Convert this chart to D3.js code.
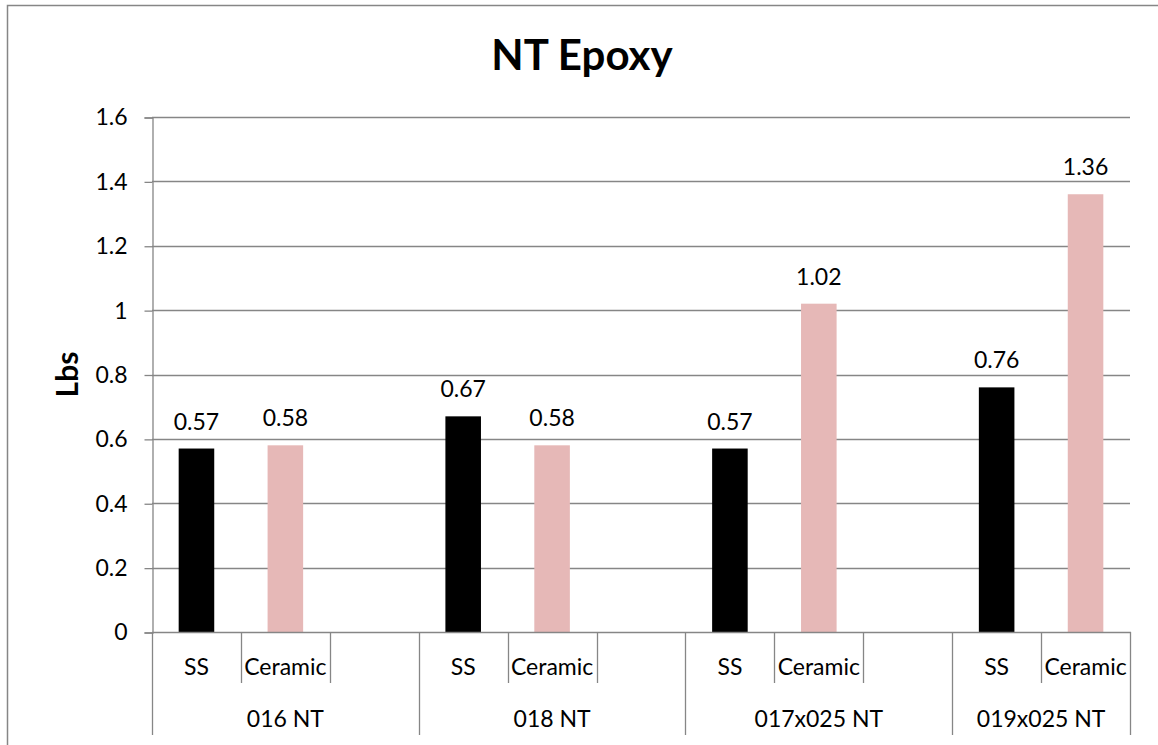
<!DOCTYPE html>
<html>
<head>
<meta charset="utf-8">
<script src="https://cdn.jsdelivr.net/npm/d3@7"></script>
<style>
  html, body { margin: 0; padding: 0; background: #fff; }
  svg { display: block; }
  text { font-family: Lato, "Open Sans", sans-serif; fill: #000; }
</style>
</head>
<body>
<svg id="chart" width="1158" height="745"></svg>
<script>
const title = "NT Epoxy";
const yTitle = "Lbs";
const groups = ["016 NT", "018 NT", "017x025 NT", "019x025 NT"];
const subcats = ["SS", "Ceramic"];
const ssValues = [0.57, 0.67, 0.57, 0.76];
const ceramicValues = [0.58, 0.58, 1.02, 1.36];
const yTicks = [0, 0.2, 0.4, 0.6, 0.8, 1, 1.2, 1.4, 1.6];

const seriesValues = [ssValues, ceramicValues];
const colors = ["#000000", "#E6B8B7"];

// build slots: each group = SS, Ceramic, blank (except last group)
const slots = [];
groups.forEach((g, gi) => {
  subcats.forEach((s, si) => slots.push({ key: g + "|" + s, group: g, gi, label: s, si, value: seriesValues[si][gi] }));
  if (gi < groups.length - 1) slots.push({ key: g + "|blank", group: g, gi, label: "", si: -1, value: null });
});

const svg = d3.select("#chart");
const pLeft = 152, pRight = 1130, pTop = 117, pBottom = 632;
const gridColor = "#868686";
const fs = 23;

// outer border
svg.append("rect").attr("x", 7.5).attr("y", 5.5).attr("width", 1300).attr("height", 900)
  .attr("fill", "none").attr("stroke", gridColor).attr("stroke-width", 1.5);

const x = d3.scaleBand().domain(slots.map(d => d.key)).range([pLeft, pRight]).padding(0);
const y = d3.scaleLinear().domain([0, 1.6]).range([pBottom, pTop]);

// gridlines
svg.append("g").selectAll("line").data(yTicks.filter(t => t > 0)).join("line")
  .attr("x1", pLeft).attr("x2", pRight)
  .attr("y1", d => Math.round(y(d)) + 0.5).attr("y2", d => Math.round(y(d)) + 0.5)
  .attr("stroke", gridColor).attr("stroke-width", 1.3);

// y axis
const yAxis = d3.axisLeft(y).tickValues(yTicks).tickSize(8).tickPadding(17).tickFormat(d3.format("~g"));
const yg = svg.append("g").attr("transform", `translate(${pLeft + 0.5},0.5)`).call(yAxis);
yg.select(".domain").attr("stroke", gridColor).attr("stroke-width", 1.3);
yg.selectAll(".tick line").attr("stroke", gridColor).attr("stroke-width", 1.3);
yg.selectAll(".tick text").attr("font-size", fs).attr("font-family", "Lato").attr("fill", "#000");

// bars
svg.append("g").selectAll("rect").data(slots.filter(d => d.value != null)).join("rect")
  .attr("x", d => x(d.key) + x.bandwidth() * 0.3)
  .attr("width", x.bandwidth() * 0.4)
  .attr("y", d => y(d.value))
  .attr("height", d => y(0) - y(d.value))
  .attr("fill", d => colors[d.si]);

// data labels
svg.append("g").selectAll("text").data(slots.filter(d => d.value != null)).join("text")
  .attr("x", d => x(d.key) + x.bandwidth() / 2)
  .attr("y", d => y(d.value) - 19)
  .attr("text-anchor", "middle")
  .attr("font-size", fs)
  .text(d => d3.format(".2f")(d.value));

// x axis line
svg.append("line").attr("x1", pLeft).attr("x2", pRight + 1).attr("y1", pBottom + 0.5).attr("y2", pBottom + 0.5)
  .attr("stroke", gridColor).attr("stroke-width", 1.3);

// slot ticks (short) and group boundaries (long)
const boundaries = [];
slots.forEach((d, i) => {
  const xs = x(d.key);
  const isGroupStart = i === 0 || slots[i - 1].gi !== d.gi;
  boundaries.push({ x: xs, long: isGroupStart });
});
boundaries.push({ x: pRight, long: true });
svg.append("g").selectAll("line").data(boundaries).join("line")
  .attr("x1", d => Math.round(d.x) + 0.5).attr("x2", d => Math.round(d.x) + 0.5)
  .attr("y1", pBottom).attr("y2", d => d.long ? 735 : 683)
  .attr("stroke", gridColor).attr("stroke-width", 1.3);

// category labels
svg.append("g").selectAll("text").data(slots.filter(d => d.label)).join("text")
  .attr("x", d => x(d.key) + x.bandwidth() / 2)
  .attr("y", 675)
  .attr("text-anchor", "middle")
  .attr("font-size", fs)
  .text(d => d.label);

// group labels
svg.append("g").selectAll("text").data(groups).join("text")
  .attr("x", (g, gi) => {
    const gs = slots.filter(s => s.gi === gi);
    const x0 = x(gs[0].key), x1 = x(gs[gs.length - 1].key) + x.bandwidth();
    return (x0 + x1) / 2;
  })
  .attr("y", 727)
  .attr("text-anchor", "middle")
  .attr("font-size", fs)
  .text(d => d);

// title
svg.append("text").attr("x", 582).attr("y", 70).attr("text-anchor", "middle")
  .attr("font-size", 42).attr("font-weight", "bold").text(title);

// y title
svg.append("text").attr("transform", `translate(${78},${(pTop + pBottom) / 2}) rotate(-90)`)
  .attr("text-anchor", "middle").attr("font-size", 30).attr("font-weight", "bold").text(yTitle);
</script>
</body>
</html>
